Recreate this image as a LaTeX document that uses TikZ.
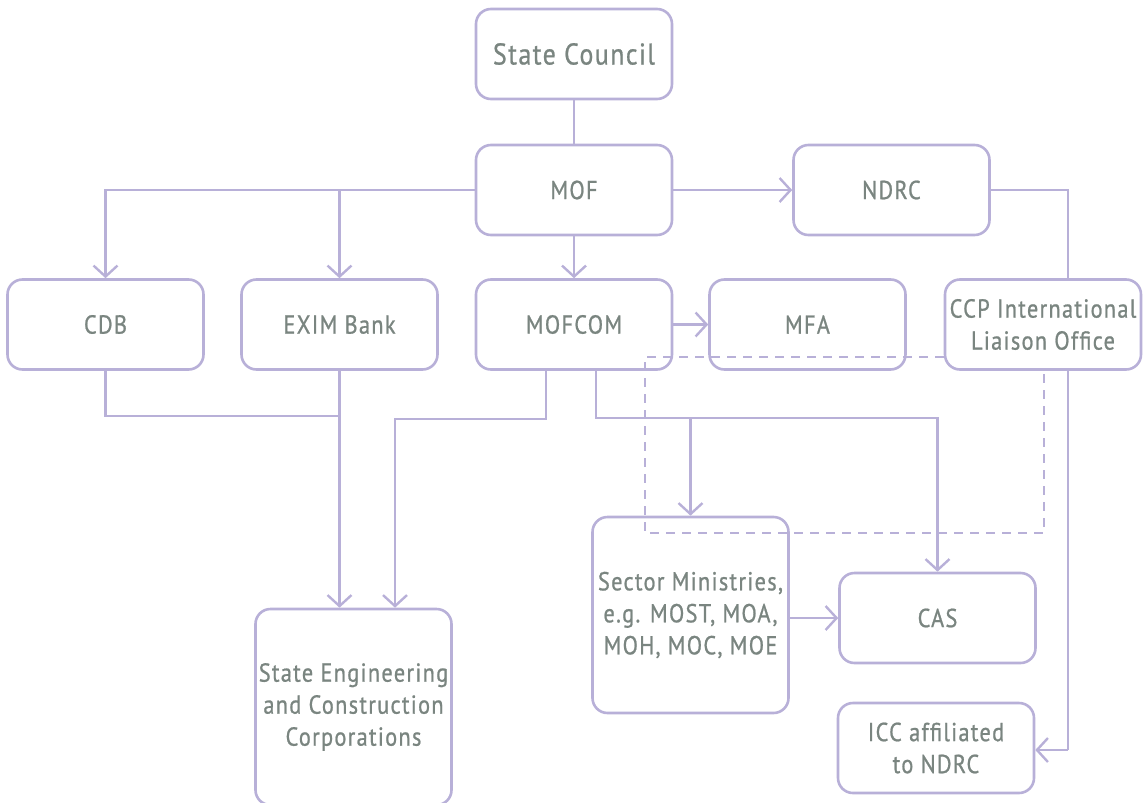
\documentclass[tikz,border=0pt]{standalone}
\usepackage{fontspec}
\setmainfont{PT Sans}[FakeStretch=0.86, LetterSpace=5, FakeBold=0.8]
\usetikzlibrary{arrows.meta}
\definecolor{lav}{HTML}{B8B0D8}
\definecolor{txt}{HTML}{7A8580}
\tikzset{
  box/.style={draw=lav, line width=2.6pt, rounded corners=15pt, fill=white,
    minimum width=196pt, minimum height=90pt, inner sep=0pt,
    text=txt, font=\fontsize{26}{32}\selectfont, align=center},
  conn/.style={draw=lav, line width=2.4pt},
  arr/.style={conn, -{Straight Barb[length=11pt,width=24pt,line width=2.4pt]}},
  dashline/.style={draw=lav, line width=2.4pt, dash pattern=on 9pt off 7pt}
}
\begin{document}
\begin{tikzpicture}[x=1pt,y=-1pt]
\useasboundingbox (0,0) rectangle (1146,803);
% connectors behind boxes
\coordinate (nr) at (1068,190);
\coordinate (nd) at (1068,750);
\draw[conn] (990,190) -- (nr) -- (nd);
\node[box] (sc) at (574,54) {\fontsize{30}{32}\selectfont State Council};
\node[box] (mof) at (574,190) {MOF};
\node[box] (ndrc) at (891.5,190) {NDRC};
\node[box] (cdb) at (105.5,324.5) {CDB};
\node[box] (exim) at (339.5,324.5) {EXIM Bank};
\node[box] (mofcom) at (574,324.5) {MOFCOM};
\node[box] (mfa) at (807.5,324.5) {MFA};
\node[box] (ccp) at (1043,324.5) {CCP International\\Liaison Office};
\node[box, minimum height=196pt] (sec) at (690.5,615) {Sector Ministries,\\e.g. MOST, MOA,\\MOH, MOC, MOE};
\node[box] (cas) at (937.5,618) {CAS};
\node[box] (icc) at (936,748) {ICC affiliated\\to NDRC};
\node[box, minimum height=196pt] (sec2) at (353.5,707) {State Engineering\\and Construction\\Corporations};
% connectors
\draw[conn] (sc) -- (mof);
\coordinate (j1) at (339.5,190);
\draw[arr] (mof.west) -- (105.5,190) -- (cdb.north);
\draw[arr] (j1) -- (exim.north);
\draw[arr] (mof) -- (mofcom);
\draw[arr] (mof) -- (ndrc);
\draw[arr] (nd) -- (icc.east |- nd);
\draw[conn] (cdb.south) -- (105.5,416) -- (339.5,416);
\draw[arr] (exim.south) -- (sec2.north -| exim.south);
\draw[arr] (mofcom.south -| 546,0) -- (546,419) -- (395,419) -- (sec2.north -| 395,0);
\draw[arr] (mofcom.south -| 596,0) -- (596,418) -- (937.5,418) -- (cas.north);
\draw[arr] (690.5,418) -- (sec.north);
\draw[arr] (mofcom) -- (mfa);
\draw[arr] (sec.east |- cas) -- (cas.west);
\draw[dashline] (ccp.west |- 0,357) -- (645,357) -- (645,533) -- (1044,533) -- (1044,370);
\end{tikzpicture}
\end{document}
